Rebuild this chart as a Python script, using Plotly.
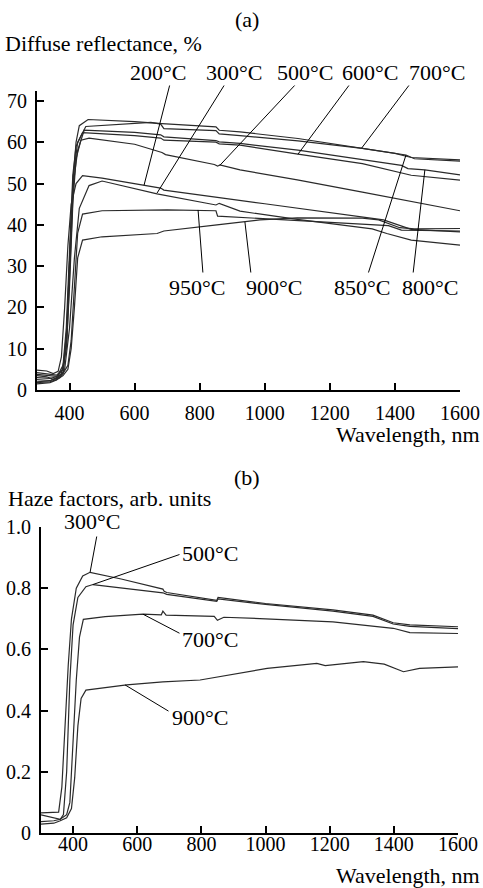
import plotly.graph_objects as go

W, H = 483, 888
FONT = "'Liberation Serif', 'Times New Roman', Times, serif"
LINE = "#2a2a2a"

# ---------------- (a) Diffuse reflectance, % ----------------
wl_200 = [300, 330, 350, 365, 375, 385, 395, 405, 420, 440, 500, 630, 680, 690, 850, 860, 1000, 1200, 1365, 1450, 1600]
r_200 = [4.8, 4.6, 4.0, 4.5, 8, 20, 35, 45, 50, 51.9, 51.3, 49.6, 48.9, 48.4, 46.8, 46.6, 45.1, 43.0, 41.2, 38.9, 38.3]

wl_300 = [300, 330, 350, 370, 385, 400, 415, 430, 460, 500, 669, 850, 860, 924, 1100, 1330, 1375, 1450, 1600]
r_300 = [3.5, 3.2, 2.6, 3.0, 5, 15, 32, 44, 49.5, 50.6, 47.5, 44.8, 45.2, 43.3, 41.3, 39.0, 37.9, 36.3, 35.1]

wl_500 = [300, 340, 360, 375, 390, 400, 410, 420, 435, 460, 600, 684, 695, 845, 855, 862, 924, 1100, 1300, 1600]
r_500 = [2.5, 2.3, 2.8, 4, 10, 25, 45, 56, 60.5, 61.0, 59.5, 57.5, 57.0, 54.6, 54.2, 54.5, 53.3, 50.9, 47.9, 43.4]

wl_600 = [300, 340, 360, 380, 390, 400, 410, 420, 440, 600, 680, 690, 850, 860, 924, 1102, 1300, 1450, 1600]
r_600 = [2.0, 2.2, 3, 6, 15, 35, 52, 59, 62.3, 61.6, 61.0, 60.5, 60.0, 59.6, 59.3, 57.1, 54.8, 52.0, 50.8]

wl_700 = [300, 340, 360, 380, 390, 400, 410, 420, 430, 457, 600, 684, 850, 860, 924, 1102, 1298, 1400, 1450, 1600]
r_700 = [3.0, 2.8, 3.2, 5, 12, 30, 50, 60, 64, 65.5, 65.0, 64.5, 63.7, 62.9, 62.5, 60.9, 58.6, 57.3, 56.3, 55.7]

wl_800 = [300, 340, 360, 380, 392, 402, 412, 425, 445, 600, 680, 690, 850, 860, 924, 1102, 1300, 1420, 1440, 1492, 1600]
r_800 = [1.8, 2.0, 2.5, 4, 12, 32, 50, 58, 62.9, 62.4, 61.8, 61.3, 60.4, 60.1, 59.7, 58.1, 55.8, 54.4, 53.6, 53.3, 52.1]

wl_850 = [300, 340, 360, 380, 392, 402, 412, 425, 450, 650, 680, 690, 850, 860, 924, 1102, 1300, 1434, 1460, 1600]
r_850 = [4.2, 3.8, 3.6, 5, 15, 35, 52, 60, 63.8, 64.8, 64.4, 63.3, 62.8, 62.0, 61.6, 60.3, 58.5, 56.9, 56.0, 55.4]

wl_900 = [300, 340, 360, 380, 395, 405, 415, 425, 440, 500, 669, 690, 853, 985, 1100, 1300, 1350, 1415, 1460, 1600]
r_900 = [1.5, 1.8, 2.4, 3.5, 5, 10, 20, 32, 36.3, 37.1, 37.9, 38.5, 40.0, 41.2, 41.7, 41.6, 41.2, 39.3, 39.0, 39.1]

wl_950 = [300, 340, 360, 380, 395, 405, 415, 425, 440, 500, 700, 850, 855, 924, 1100, 1300, 1380, 1420, 1600]
r_950 = [3.8, 3.5, 3.3, 4, 6, 12, 25, 38, 42.6, 43.4, 43.6, 43.4, 42.1, 41.8, 41.2, 40.3, 39.8, 38.7, 38.5]

curves_a = [(wl_200, r_200), (wl_300, r_300), (wl_500, r_500), (wl_600, r_600), (wl_700, r_700),
            (wl_800, r_800), (wl_850, r_850), (wl_900, r_900), (wl_950, r_950)]

labels_a = ["200°C", "300°C", "500°C", "600°C", "700°C", "950°C", "900°C", "850°C", "800°C"]
tips_a_wl = [629, 669, 862, 1102, 1298, 795, 939, 1434, 1492]
tips_a_v = [49.6, 47.7, 54.4, 57.1, 58.6, 43.6, 40.7, 56.9, 53.3]

# ---------------- (b) Haze factors ----------------
wl_h300 = [300, 340, 355, 365, 375, 385, 395, 410, 430, 453, 550, 680, 684, 692, 848, 852, 1000, 1210, 1335, 1398, 1450, 1600]
h_300 = [0.066, 0.066, 0.068, 0.15, 0.35, 0.55, 0.70, 0.80, 0.84, 0.852, 0.83, 0.797, 0.790, 0.786, 0.760, 0.770, 0.750, 0.729, 0.712, 0.687, 0.680, 0.674]

wl_h500 = [300, 340, 360, 370, 380, 390, 400, 415, 440, 462, 560, 680, 692, 848, 852, 1000, 1210, 1335, 1398, 1450, 1600]
h_500 = [0.059, 0.050, 0.045, 0.06, 0.2, 0.5, 0.68, 0.77, 0.805, 0.812, 0.80, 0.785, 0.780, 0.757, 0.765, 0.747, 0.725, 0.708, 0.683, 0.675, 0.668]

wl_h700 = [300, 340, 360, 380, 390, 400, 410, 420, 432, 500, 618, 675, 680, 690, 840, 850, 870, 1000, 1210, 1398, 1450, 1600]
h_700 = [0.037, 0.040, 0.045, 0.06, 0.1, 0.3, 0.5, 0.64, 0.698, 0.707, 0.715, 0.713, 0.725, 0.712, 0.708, 0.695, 0.705, 0.700, 0.690, 0.669, 0.655, 0.652]

wl_h900 = [300, 340, 360, 380, 395, 405, 415, 425, 440, 567, 680, 796, 1005, 1160, 1186, 1305, 1370, 1430, 1480, 1600]
h_900 = [0.029, 0.032, 0.040, 0.05, 0.08, 0.18, 0.35, 0.44, 0.467, 0.484, 0.494, 0.50, 0.538, 0.554, 0.547, 0.56, 0.552, 0.527, 0.538, 0.543]

curves_b = [(wl_h300, h_300), (wl_h500, h_500), (wl_h700, h_700), (wl_h900, h_900)]
labels_b = ["300°C", "500°C", "700°C", "900°C"]
tips_b_wl = [453, 462, 618, 562]
tips_b_v = [0.852, 0.812, 0.715, 0.484]

x_ticks = [400, 600, 800, 1000, 1200, 1400, 1600]
ya_ticks = [0, 10, 20, 30, 40, 50, 60, 70]
yb_ticks = [0, 0.2, 0.4, 0.6, 0.8, 1.0]
yb_text = ["0", "0.2", "0.4", "0.6", "0.8", "1.0"]

# ---------------- figure ----------------
def fx(px):
    return px / W

def fy(py):
    return 1 - py / H

fig = go.Figure()
for wl, v in curves_a:
    fig.add_trace(go.Scatter(x=wl, y=v, mode="lines", line=dict(color=LINE, width=1.2),
                             xaxis="x", yaxis="y", showlegend=False, hoverinfo="skip"))
for wl, v in curves_b:
    fig.add_trace(go.Scatter(x=wl, y=v, mode="lines", line=dict(color=LINE, width=1.2),
                             xaxis="x2", yaxis="y2", showlegend=False, hoverinfo="skip"))

axis_common = dict(showline=True, linecolor="black", linewidth=2, ticks="inside", ticklen=7,
                   tickwidth=2, tickcolor="black", showgrid=False, zeroline=False,
                   automargin=False,
                   tickfont=dict(family=FONT, size=20, color="black"))

fig.update_layout(
    width=W, height=H, autosize=False, margin=dict(l=0, r=0, t=0, b=0, pad=0),
    paper_bgcolor="white", plot_bgcolor="white", showlegend=False,
    font=dict(family=FONT, color="black"),
    xaxis=dict(domain=[fx(37), fx(460)], range=[300, 1600], anchor="y",
               tickvals=x_ticks, ticklabelstandoff=4, **axis_common),
    yaxis=dict(domain=[fy(390), fy(91)], range=[0, 72.4], anchor="x",
               tickvals=ya_ticks, ticklabelstandoff=4, **axis_common),
    xaxis2=dict(domain=[fx(41), fx(458)], range=[300, 1600], anchor="y2",
                tickvals=x_ticks, ticklabelstandoff=-8, **axis_common),
    yaxis2=dict(domain=[fy(833), fy(527)], range=[0, 1.0], anchor="x2",
                tickvals=yb_ticks, ticktext=yb_text, ticklabelstandoff=4, **axis_common),
)

TXT = dict(family=FONT, size=22, color="black")
ann = []

def text(px, py, s, anchor="center"):
    ann.append(dict(x=fx(px), y=fy(py), xref="paper", yref="paper", text=s, showarrow=False,
                    xanchor=anchor, yanchor="middle", font=TXT, borderpad=0))

def leader(xr, yr, wl, v, tail_px, tail_py, tip_px, tip_py):
    ann.append(dict(x=wl, y=v, xref=xr, yref=yr, text="", showarrow=True, arrowhead=0,
                    arrowwidth=1, arrowcolor="black", ax=tail_px - tip_px, ay=tail_py - tip_py,
                    standoff=0, startstandoff=0))

text(247, 20, "(a)")
text(4, 43, "Diffuse reflectance, %", "left")
text(481, 434, "Wavelength, nm", "right")
text(247, 477, "(b)")
text(7, 498, "Haze factors, arb. units", "left")
text(481, 875, "Wavelength, nm", "right")

lab_a_pos = [(158, 72), (234, 72), (305, 72), (370, 72), (437, 72), (197, 287), (274, 287), (362, 287), (430, 287)]
tail_a = [(170, 84), (225, 84), (296, 84), (350, 84), (410, 84), (203, 274), (251, 274), (368, 274), (413, 274)]
for s, (lx, ly), (tx, ty), wl, v in zip(labels_a, lab_a_pos, tail_a, tips_a_wl, tips_a_v):
    text(lx, ly, s)
    tip_px = 37 + (wl - 300) * 423 / 1300
    tip_py = 390 - v * 299 / 72.4
    leader("x", "y", wl, v, tx, ty, tip_px, tip_py)

lab_b_pos = [(92, 521), (210, 553), (210, 639), (200, 717)]
tail_b = [(97, 535), (181, 554), (181, 634), (170, 712)]
for s, (lx, ly), (tx, ty), wl, v in zip(labels_b, lab_b_pos, tail_b, tips_b_wl, tips_b_v):
    text(lx, ly, s)
    tip_px = 41 + (wl - 300) * 417 / 1300
    tip_py = 833 - v * 306
    leader("x2", "y2", wl, v, tx, ty, tip_px, tip_py)

fig.update_layout(annotations=ann)
fig.write_html("out.html", config={"responsive": False, "displayModeBar": False},
               post_script="document.body.style.margin='0';document.body.style.padding='0';"
                           "document.documentElement.style.overflow='hidden';")
